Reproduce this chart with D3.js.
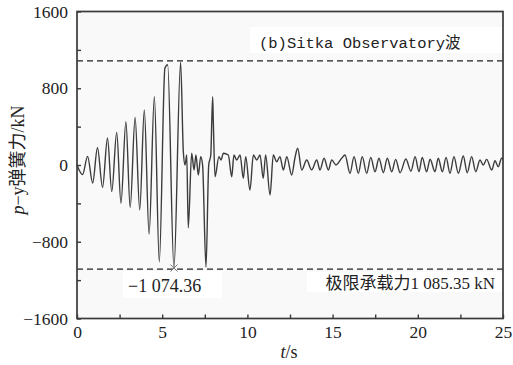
<!DOCTYPE html>
<html><head><meta charset="utf-8">
<script src="https://cdn.jsdelivr.net/npm/d3@7"></script>
<style>
html,body{margin:0;padding:0;background:#fff;}
svg{display:block;}
</style></head>
<body>
<svg id="chart" width="513" height="365"></svg>
<script>
// ---- data ----
const timeS = [0.00,0.33,0.62,0.92,1.20,1.50,1.79,2.04,2.33,2.58,2.87,3.12,3.41,3.68,3.95,4.23,4.54,4.83,5.16,5.32,5.69,6.08,6.24,6.34,6.44,6.53,6.73,6.87,6.98,7.12,7.26,7.37,7.57,7.73,7.85,7.96,8.00,8.10,8.33,8.45,8.59,8.88,9.08,9.21,9.37,9.57,9.76,9.90,10.15,10.35,10.55,10.74,10.93,11.07,11.33,11.52,11.72,11.91,12.11,12.31,12.60,12.79,12.95,13.19,13.48,13.77,14.07,14.26,14.50,14.75,14.95,15.20,15.53,15.73,16.02,16.26,16.51,16.74,17.00,17.24,17.49,17.72,17.98,18.21,18.47,18.70,18.96,19.30,19.60,19.84,20.07,20.26,20.52,20.72,21.01,21.20,21.44,21.66,21.89,22.12,22.38,22.67,22.90,23.16,23.40,23.65,23.84,24.04,24.34,24.53,24.72,24.92,25.00];
const springForce = [0,-100,90,-188,180,-232,282,-278,340,-398,452,-443,495,-468,574,-720,712,-1010,1010,1045,-1074.36,1072,139,0,104,-655,122,-52,104,-104,87,0,-1065,0,104,712,452,-122,87,52,122,104,-122,104,52,104,-139,87,-261,104,52,104,-139,104,-313,104,34,87,-52,87,-104,73,174,-52,52,-50,52,-52,70,-52,52,0,70,104,-87,87,-87,87,-87,80,-70,70,-80,70,-70,59,-80,62,-65,87,-70,80,-70,60,-70,70,-70,80,-87,87,-87,94,-80,87,-70,52,0,59,-52,45,-17,70,60];
const xTicks = [0,5,10,15,20,25];
const xMinorTicks = [2.5,7.5,12.5,17.5,22.5];
const yTicks = [-1600,-800,0,800,1600];
const yMinorTicks = [-1200,-400,400,1200];
const ultimateCapacity = 1085.35;
const minPoint = {t: 5.69, v: -1074.36};
const titleText = "(b)Sitka Observatory波";
const capacityLabel = "极限承载力1 085.35 kN";
const minLabel = "−1 074.36";

// ---- layout ----
const svg = d3.select("#chart");
const L = 77, R = 503, T = 11.5, B = 318.5;
const x = d3.scaleLinear().domain([0,25]).range([L,R]);
const y = d3.scaleLinear().domain([-1600,1600]).range([B,T]);
const serif = "'Liberation Serif', 'Noto Sans CJK SC', serif";
const frameColor = "#3a3a3a";

svg.append("rect").attr("x",L).attr("y",T).attr("width",R-L).attr("height",B-T)
  .attr("fill","#f9f9f9");

// title box
svg.append("rect").attr("x",250).attr("y",27).attr("width",R-250).attr("height",26).attr("fill","#fff");
svg.append("text").attr("x",259).attr("y",47.5)
  .style("font-family","'Liberation Mono', 'Noto Sans CJK SC', monospace").style("font-size","15.5px")
  .attr("fill","#222").text(titleText);

// limit lines
[ultimateCapacity,-ultimateCapacity].forEach(v=>{
  svg.append("line").attr("x1",L).attr("x2",R).attr("y1",y(v)).attr("y2",y(v))
    .attr("stroke","#222").attr("stroke-width",1.3).attr("stroke-dasharray","6,4");
});

// label boxes
svg.append("rect").attr("x",307).attr("y",272).attr("width",R-307).attr("height",20).attr("fill","#fff");
svg.append("text").attr("x",495).attr("y",289).attr("text-anchor","end")
  .style("font-family",serif).style("font-size","17px").attr("fill","#222").text(capacityLabel);
svg.append("rect").attr("x",123).attr("y",271).attr("width",99).attr("height",27).attr("fill","#fff");
svg.append("text").attr("x",128).attr("y",292)
  .style("font-family",serif).style("font-size","18px").attr("fill","#222").text(minLabel);

// waveform
const pts = timeS.map((t,i)=>[t,springForce[i]]);
const line = d3.line().x(d=>x(d[0])).y(d=>y(d[1])).curve(d3.curveMonotoneX);
svg.append("path").datum(pts).attr("d",line).attr("fill","none")
  .attr("stroke","#3c3c3c").attr("stroke-width",1.4).attr("stroke-linejoin","round");

// min marker
const mx = x(minPoint.t), my = y(minPoint.v);
svg.append("path").attr("d",`M${mx-3.5},${my-3.5}L${mx+3.5},${my+3.5}M${mx-3.5},${my+3.5}L${mx+3.5},${my-3.5}`)
  .attr("stroke","#777").attr("stroke-width",1);

// axes
const fmt = d => d<0 ? "−"+Math.abs(d) : String(d);
const gx = svg.append("g").attr("transform",`translate(0,${B})`)
  .call(d3.axisBottom(x).tickValues(xTicks).tickSizeInner(-4).tickSizeOuter(0).tickPadding(7).tickFormat(fmt));
const gxm = svg.append("g").attr("transform",`translate(0,${B})`)
  .call(d3.axisBottom(x).tickValues(xMinorTicks).tickSizeInner(-4).tickSizeOuter(0).tickFormat(""));
const gy = svg.append("g").attr("transform",`translate(${L},0)`)
  .call(d3.axisLeft(y).tickValues(yTicks).tickSizeInner(-4).tickSizeOuter(0).tickPadding(9).tickFormat(fmt));
const gym = svg.append("g").attr("transform",`translate(${L},0)`)
  .call(d3.axisLeft(y).tickValues(yMinorTicks).tickSizeInner(-4).tickSizeOuter(0).tickFormat(""));
[gx,gxm,gy,gym].forEach(g=>{
  g.attr("font-family",null).attr("font-size",null);
  g.select(".domain").remove();
  g.selectAll("line").attr("stroke",frameColor).attr("stroke-width",1.4);
  g.selectAll("text").style("font-family",serif).style("font-size","17.5px").attr("fill","#222");
});

// frame
svg.append("rect").attr("x",L).attr("y",T).attr("width",R-L).attr("height",B-T)
  .attr("fill","none").attr("stroke",frameColor).attr("stroke-width",1.7);

// axis titles
const xt = svg.append("text").attr("x",289).attr("y",358).attr("text-anchor","middle")
  .style("font-family",serif).style("font-size","18px").attr("fill","#222");
xt.append("tspan").attr("font-style","italic").text("t");
xt.append("tspan").text("/s");

const yt = svg.append("text").attr("transform","translate(24,160) rotate(-90)").attr("text-anchor","middle")
  .style("font-family",serif).style("font-size","18px").attr("fill","#222");
yt.append("tspan").attr("font-style","italic").text("p");
yt.append("tspan").text("−y弹簧力/kN");
</script>
</body></html>
